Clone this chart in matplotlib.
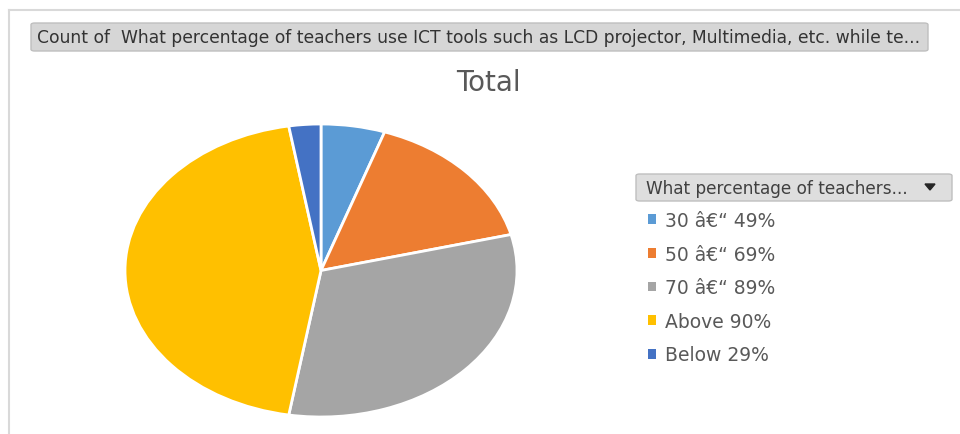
import matplotlib
matplotlib.use('Agg')
import matplotlib.pyplot as plt
from matplotlib.patches import FancyBboxPatch, Polygon
from matplotlib.lines import Line2D

# data (count of answers per band)
labels = ["30 â€“ 49%", "50 â€“ 69%", "70 â€“ 89%", "Above 90%", "Below 29%"]
counts = [2, 6, 12, 17, 1]
colors = ["#5B9BD5", "#ED7D31", "#A5A5A5", "#FFC000", "#4472C4"]

header = "Count of  What percentage of teachers use ICT tools such as LCD projector, Multimedia, etc. while te..."
legend_title = "What percentage of teachers..."

plt.rcParams["font.family"] = ["DejaVu Sans"]

W, H = 960, 435
fig = plt.figure(figsize=(W / 100, H / 100), dpi=100)


def fx(x):
    return x / W


def fy(y):
    return 1 - y / H


# pie area (ellipse in the reference, so aspect is left free)
cx, cy, rx, ry = 321, 271.5, 196, 146.5
ax = fig.add_axes([fx(cx - rx), fy(cy + ry), 2 * rx / W, 2 * ry / H])
wedges, _ = ax.pie(counts, colors=colors, startangle=90, counterclock=False,
                   wedgeprops=dict(edgecolor="white", linewidth=2))
ax.set_aspect("auto")
ax.set_xlim(-1, 1)
ax.set_ylim(-1, 1)

# outer frame lines
fig.add_artist(Line2D([fx(9), fx(9)], [fy(11), 0], color="#d9d9d9", lw=1.5))
fig.add_artist(Line2D([fx(9), 1], [fy(11), fy(11)], color="#d9d9d9", lw=1.5))

# header button
fig.add_artist(FancyBboxPatch((fx(31), fy(52)), fx(928) - fx(31), fy(24) - fy(52),
                              boxstyle="round,pad=0,rounding_size=0.004",
                              transform=fig.transFigure, facecolor="#d6d6d6",
                              edgecolor="#bfbfbf", lw=1))
fig.text(fx(37), fy(38), header, fontsize=12.3, color="#333333", va="center", ha="left")

# chart title
fig.text(fx(488), fy(83), "Total", fontsize=20, color="#595959", ha="center", va="center")

# legend header button
fig.add_artist(FancyBboxPatch((fx(636), fy(202)), fx(952) - fx(636), fy(175) - fy(202),
                              boxstyle="round,pad=0,rounding_size=0.004",
                              transform=fig.transFigure, facecolor="#dedede",
                              edgecolor="#bfbfbf", lw=1))
fig.text(fx(646), fy(189), legend_title, fontsize=12.2, color="#404040", va="center", ha="left")
fig.add_artist(Polygon([(fx(925), fy(185)), (fx(935), fy(185)), (fx(930), fy(191))],
                       closed=True, transform=fig.transFigure, color="#262626"))

leg = fig.legend(wedges, labels, loc="upper left", bbox_to_anchor=(fx(648), fy(212)),
                 frameon=False, fontsize=13.5, handlelength=0.42, handleheight=0.42,
                 handletextpad=0.5, labelspacing=0.78, borderaxespad=0, borderpad=0)
for t in leg.get_texts():
    t.set_color("#595959")
for h in leg.legend_handles:
    h.set_edgecolor("none")

fig.savefig("out.png", dpi=100)
plt.close()
